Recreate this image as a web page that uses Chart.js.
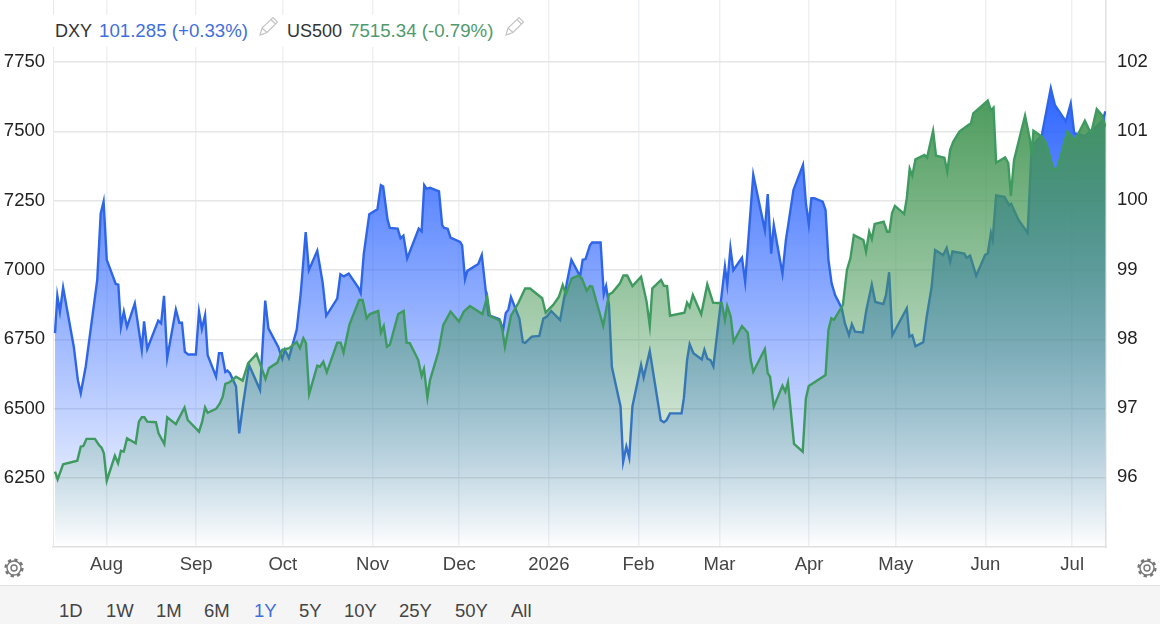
<!DOCTYPE html>
<html>
<head>
<meta charset="utf-8">
<title>DXY vs US500</title>
<script src="https://cdn.jsdelivr.net/npm/chart.js@4"></script>
<style>
    html, body { margin: 0; padding: 0; background: #fff; overflow: hidden; }
    body { width: 1160px; height: 624px; position: relative; font-family: "Liberation Sans", Arial, sans-serif; font-size: 18px; color: #333; }
    #priceChart { position: absolute; left: 0; top: 0; }
    #legendRow { position: absolute; left: 53px; top: 15px; width: 480px; height: 32px; background: #fff; }
    #legendRow span, #legendRow svg { position: absolute; white-space: nowrap; line-height: 32px; }
    #legendRow .blue, #legendRow .green { font-size: 18.7px; }
    .blue { color: #3f6fdc; }
    .green { color: #4f9a6c; }
    .gear { position: absolute; top: 558px; }
    #rangeBar { position: absolute; left: 0; top: 585px; width: 1160px; height: 39px; background: #f5f5f5; border-top: 1px solid #e2e2e2; box-sizing: border-box; font-size: 18.5px; }
    #rangeBar span { position: absolute; top: 14px; line-height: 21px; color: #444; }
    #rangeBar span.active { color: #3f6fdc; }
</style>
</head>
<body>
<canvas id="priceChart" width="1160" height="585"></canvas>

<div id="legendRow">
    <span style="left:2px">DXY</span>
    <span class="blue" style="left:46px">101.285 (+0.33%)</span>
    <svg style="left:204px;top:0" width="22" height="22" viewBox="0 0 22 22"><path d="M3 20 L5 13 L16 2.5 L20.5 7 L10 17.5 Z M5 13 L10 17.5 M14 4.5 L18.5 9 M3 20 L7 19" fill="none" stroke="#c4c4c4" stroke-width="1.2"/></svg>
    <span style="left:234px">US500</span>
    <span class="green" style="left:296px">7515.34 (-0.79%)</span>
    <svg style="left:450px;top:0" width="22" height="22" viewBox="0 0 22 22"><path d="M3 20 L5 13 L16 2.5 L20.5 7 L10 17.5 Z M5 13 L10 17.5 M14 4.5 L18.5 9 M3 20 L7 19" fill="none" stroke="#c4c4c4" stroke-width="1.2"/></svg>
</div>

<svg class="gear" style="left:4px" width="20" height="20" viewBox="0 0 20 20"><circle cx="10" cy="10" r="7" fill="none" stroke="#777" stroke-width="1.4"/><circle cx="10" cy="10" r="8.4" fill="none" stroke="#777" stroke-width="2.4" stroke-dasharray="3.3 3.3"/><circle cx="10" cy="10" r="3" fill="none" stroke="#777" stroke-width="1.4"/></svg>
<svg class="gear" style="left:1137px" width="20" height="20" viewBox="0 0 20 20"><circle cx="10" cy="10" r="7" fill="none" stroke="#777" stroke-width="1.4"/><circle cx="10" cy="10" r="8.4" fill="none" stroke="#777" stroke-width="2.4" stroke-dasharray="3.3 3.3"/><circle cx="10" cy="10" r="3" fill="none" stroke="#777" stroke-width="1.4"/></svg>

<div id="rangeBar"></div>

<script>
// days are counted from 14 Jul 2025
const dxyDays = [0.2, 1.0, 1.9, 3.0, 6.7, 8.1, 9.1, 10.8, 14.8, 16.0, 17.0, 18.1, 21.2, 22.1, 23.0, 24.0, 25.1, 27.8, 30.2, 31.0,
    32.1, 35.9, 36.9, 37.9, 39.0, 42.0, 43.2, 44.1, 45.1, 46.3, 48.9, 50.0, 51.0, 52.1, 53.0, 55.9, 56.9, 57.9, 59.1, 59.8,
    60.7, 62.8, 63.9, 65.3, 67.3, 71.1, 72.9, 74.0, 77.4, 78.8, 79.7, 81.1, 83.8, 85.2, 86.9, 88.0, 90.9, 92.8, 94.0, 97.8,
    98.9, 100.1, 101.8, 105.1, 105.9, 107.0, 108.9, 111.7, 112.9, 113.7, 115.2, 116.0, 118.7, 119.7, 120.7, 122.0, 126.0, 127.0, 127.9, 128.7,
    129.9, 133.0, 134.1, 134.8, 136.0, 137.0, 140.3, 141.0, 142.0, 142.8, 146.6, 147.8, 150.1, 153.9, 155.2, 156.1, 157.0, 157.9, 160.8, 162.0,
    162.8, 165.1, 167.7, 169.1, 170.3, 171.8, 174.9, 177.2, 178.8, 181.8, 182.7, 183.7, 185.2, 186.0, 188.9, 190.0, 190.8, 191.8, 192.8, 195.8,
    196.7, 197.8, 198.8, 199.9, 202.9, 203.8, 205.9, 209.7, 210.8, 211.7, 212.9, 216.9, 217.7, 218.8, 219.7, 221.0, 223.9, 224.8, 225.8, 226.9,
    227.9, 231.9, 232.7, 233.8, 234.8, 237.8, 238.9, 241.7, 245.7, 246.7, 247.9, 248.8, 251.8, 253.0, 253.7, 255.6, 258.9, 259.9, 260.9, 261.8,
    262.8, 265.7, 266.7, 267.7, 268.8, 270.0, 272.3, 273.4, 274.8, 275.8, 276.9, 279.6, 280.8, 282.7, 283.9, 286.7, 287.6, 288.7, 289.8, 294.8,
    295.7, 296.7, 297.8, 300.5, 301.7, 303.4, 304.6, 307.4, 308.6, 309.8, 310.6, 314.7, 315.5, 316.7, 318.8, 321.9, 322.8, 323.9, 324.5, 325.7,
    328.6, 330.2, 330.9, 333.4, 336.6, 338.0, 341.5, 344.6, 346.0, 349.8, 351.5, 352.7, 356.4, 359.9, 362.6, 363.5];
const dxyValues = [98.08, 98.62, 98.39, 98.74, 97.88, 97.40, 97.21, 97.59, 98.85, 99.81, 99.98, 99.14, 98.79, 98.78, 98.17, 98.39, 98.17, 98.51, 97.84, 98.25,
    97.85, 98.26, 98.22, 98.62, 97.72, 98.42, 98.23, 98.23, 97.81, 97.77, 97.77, 98.39, 98.14, 98.34, 97.76, 97.45, 97.79, 97.79, 97.52, 97.54,
    97.50, 97.31, 96.63, 97.07, 97.62, 97.26, 98.55, 98.15, 97.88, 97.71, 97.84, 97.72, 98.13, 98.66, 99.54, 98.99, 99.27, 98.80, 98.33, 98.58,
    98.93, 98.90, 98.94, 98.74, 98.66, 99.23, 99.80, 99.87, 100.22, 100.20, 99.72, 99.60, 99.59, 99.45, 99.49, 99.16, 99.59, 99.55, 100.22, 100.17,
    100.18, 100.13, 99.64, 99.60, 99.59, 99.46, 99.40, 99.35, 98.86, 98.98, 99.08, 99.21, 98.34, 98.28, 98.13, 98.37, 98.42, 98.60, 98.29, 97.95,
    97.94, 98.03, 98.04, 98.29, 98.32, 98.40, 98.27, 98.80, 99.14, 98.90, 99.14, 99.15, 99.35, 99.39, 99.39, 98.64, 98.76, 98.49, 97.59, 97.02,
    96.22, 96.44, 96.28, 97.02, 97.62, 97.44, 97.82, 96.82, 96.79, 96.82, 96.92, 96.92, 97.14, 97.69, 97.92, 97.79, 97.70, 97.84, 97.71, 97.69,
    97.60, 99.04, 98.78, 99.31, 98.99, 99.17, 98.82, 100.37, 99.57, 100.09, 99.23, 99.64, 98.94, 99.43, 99.62, 100.15, 100.51, 99.96, 99.65, 100.03,
    100.03, 99.98, 99.86, 99.14, 98.80, 98.63, 98.44, 98.22, 98.05, 98.21, 98.10, 98.09, 98.41, 98.78, 98.53, 98.50, 98.63, 98.96, 98.05, 98.44,
    98.03, 98.05, 97.89, 97.95, 98.32, 98.75, 99.28, 99.21, 99.31, 99.11, 99.26, 99.23, 99.17, 99.20, 98.91, 99.21, 99.23, 99.53, 99.43, 100.07,
    100.05, 99.93, 99.95, 99.72, 99.53, 100.78, 100.94, 101.62, 101.38, 101.14, 101.40, 100.97, 100.93, 101.05, 101.16, 101.285];

const us500Days = [0.2, 1.1, 3.0, 7.9, 9.1, 10.0, 11.1, 14.0, 15.4, 16.3, 17.1, 18.1, 20.9, 22.0, 23.0, 24.0, 25.1, 28.1, 29.2, 30.2,
    31.1, 32.1, 35.1, 36.0, 38.0, 39.0, 42.0, 45.0, 46.1, 50.0, 51.1, 52.1, 53.0, 55.9, 57.2, 58.2, 59.1, 60.7, 62.8, 65.1,
    67.0, 69.9, 73.0, 74.2, 77.1, 78.8, 81.2, 83.8, 84.9, 86.1, 87.0, 88.1, 90.9, 91.8, 93.0, 94.2, 97.8, 99.0, 100.0, 102.0,
    105.4, 106.6, 108.0, 109.1, 112.0, 112.9, 113.9, 115.0, 116.0, 118.9, 120.8, 121.8, 122.9, 125.8, 127.0, 127.8, 129.0, 129.9, 132.8, 134.5,
    137.0, 139.9, 141.6, 143.7, 148.0, 149.7, 150.6, 154.1, 154.9, 155.8, 157.9, 160.4, 162.8, 164.5, 168.7, 169.9, 172.5, 174.5, 175.8, 176.9,
    178.9, 181.2, 182.4, 184.1, 185.2, 186.0, 189.8, 191.8, 192.9, 195.6, 196.8, 198.1, 199.9, 202.9, 204.8, 205.9, 206.8, 209.8, 210.8, 211.9,
    212.9, 217.9, 218.8, 219.7, 220.8, 223.7, 225.8, 227.8, 230.8, 231.9, 232.7, 233.9, 234.9, 237.8, 239.8, 240.8, 241.7, 245.7, 246.7, 247.5,
    248.8, 251.8, 252.8, 253.7, 255.8, 258.8, 259.9, 260.9, 266.7, 267.7, 268.7, 269.6, 272.7, 274.1, 275.3, 276.5, 279.8, 280.7, 281.8, 282.7,
    283.7, 286.8, 288.0, 288.8, 289.7, 290.7, 293.9, 294.8, 295.8, 296.7, 297.8, 300.9, 301.8, 303.9, 304.9, 307.8, 308.8, 309.8, 310.9, 313.0,
    316.1, 317.0, 317.8, 322.8, 323.9, 324.8, 325.7, 328.8, 329.9, 330.8, 331.9, 335.7, 337.4, 338.0, 338.6, 341.5, 343.0, 345.5, 346.9, 350.3,
    353.0, 356.4, 357.9, 358.7, 360.5, 362.2, 363.6];
const us500Values = [6273, 6245, 6299, 6312, 6363, 6365, 6391, 6391, 6369, 6359, 6339, 6240, 6330, 6303, 6348, 6345, 6393, 6375, 6453, 6469,
    6469, 6453, 6451, 6411, 6372, 6469, 6444, 6504, 6459, 6417, 6453, 6504, 6485, 6499, 6519, 6543, 6589, 6596, 6615, 6601,
    6664, 6697, 6607, 6646, 6666, 6712, 6718, 6741, 6718, 6754, 6736, 6553, 6655, 6651, 6669, 6631, 6738, 6738, 6702, 6802,
    6892, 6892, 6826, 6841, 6852, 6774, 6798, 6723, 6730, 6841, 6852, 6738, 6736, 6676, 6618, 6643, 6540, 6603, 6705, 6802,
    6850, 6814, 6850, 6870, 6841, 6904, 6835, 6817, 6784, 6723, 6835, 6880, 6933, 6933, 6898, 6846, 6874, 6904, 6946, 6913,
    6970, 6980, 6970, 6925, 6942, 6940, 6799, 6912, 6918, 6952, 6980, 6980, 6942, 6976, 6886, 6799, 6934, 6964, 6943, 6942,
    6835, 6846, 6882, 6866, 6910, 6840, 6948, 6882, 6880, 6820, 6870, 6832, 6741, 6798, 6774, 6676, 6633, 6715, 6628, 6615,
    6507, 6583, 6561, 6595, 6373, 6345, 6537, 6582, 6621, 6784, 6826, 6820, 6874, 7000, 7042, 7126, 7108, 7066, 7138, 7111,
    7166, 7174, 7138, 7138, 7205, 7231, 7202, 7259, 7365, 7340, 7399, 7415, 7405, 7502, 7412, 7405, 7355, 7433, 7463, 7499,
    7523, 7529, 7565, 7611, 7575, 7585, 7387, 7406, 7385, 7267, 7397, 7556, 7469, 7415, 7502, 7481, 7457, 7363, 7367, 7499,
    7469, 7538, 7505, 7499, 7580, 7559, 7515.34];

const monthDays = [18, 49, 79, 110, 140, 171, 202, 230, 261, 291, 322, 352];
const monthLabels = ["Aug", "Sep", "Oct", "Nov", "Dec", "2026", "Feb", "Mar", "Apr", "May", "Jun", "Jul"];
const us500Ticks = [6250, 6500, 6750, 7000, 7250, 7500, 7750];
const dxyTicks = [96, 97, 98, 99, 100, 101, 102];
const rangeLabels = ["1D", "1W", "1M", "6M", "1Y", "5Y", "10Y", "25Y", "50Y", "All"];
const rangeLefts = [59, 106, 156, 204, 254, 299, 344, 399, 455, 511];

function fillGradient(chart, stops) {
    const area = chart.chartArea;
    if (!area) return "transparent";
    const g = chart.ctx.createLinearGradient(0, area.top, 0, area.bottom);
    stops.forEach(s => g.addColorStop(s[0], s[1]));
    return g;
}

function toPoints(days, values) {
    return days.map((d, i) => ({ x: d, y: values[i] }));
}

// y axes reserve room for half a label above the top tick, which would push the plot down
function fitYAxis(axis, width) {
    axis.width = width;
    axis.paddingTop = 0;
    axis.paddingBottom = 0;
}

rangeLabels.forEach((label, i) => {
    const el = document.createElement("span");
    el.textContent = label;
    el.style.left = rangeLefts[i] + "px";
    if (label === "1Y") el.className = "active";
    document.getElementById("rangeBar").appendChild(el);
});

const tickFont = { family: "'Liberation Sans', Arial, sans-serif", size: 18.5 };

new Chart(document.getElementById("priceChart"), {
    type: "line",
    data: {
        datasets: [
            {
                label: "DXY",
                data: toPoints(dxyDays, dxyValues),
                yAxisID: "yDxy",
                order: 2,
                borderColor: "#2f66e8",
                borderWidth: 2.4,
                pointRadius: 0,
                tension: 0,
                fill: "start",
                backgroundColor: ctx => fillGradient(ctx.chart, [
                    [0, "rgba(41,98,255,1)"],
                    [0.14, "rgba(41,98,255,1)"],
                    [1, "rgba(41,98,255,0)"]
                ])
            },
            {
                label: "US500",
                data: toPoints(us500Days, us500Values),
                yAxisID: "yUs500",
                order: 1,
                borderColor: "#3f9a60",
                borderWidth: 2.4,
                pointRadius: 0,
                tension: 0,
                fill: "start",
                backgroundColor: ctx => fillGradient(ctx.chart, [
                    [0, "rgba(68,150,84,0.95)"],
                    [0.18, "rgba(68,150,84,0.95)"],
                    [1, "rgba(68,150,84,0)"]
                ])
            }
        ]
    },
    options: {
        responsive: false,
        animation: false,
        layout: { padding: 0, autoPadding: false },
        plugins: { legend: { display: false }, tooltip: { enabled: false } },
        scales: {
            x: {
                type: "linear",
                min: -0.5,
                max: 363.7,
                afterBuildTicks: axis => { axis.ticks = monthDays.map(v => ({ value: v })); },
                afterFit: axis => { axis.height = 38; axis.paddingLeft = 0; axis.paddingRight = 0; },
                ticks: {
                    autoSkip: false,
                    maxRotation: 0,
                    padding: 7,
                    color: "#444",
                    font: tickFont,
                    callback: value => monthLabels[monthDays.indexOf(value)]
                },
                grid: { color: "#eef1f4", lineWidth: 1.5, drawTicks: false },
                border: { color: "#e0e0e0", width: 1.5 }
            },
            yUs500: {
                type: "linear",
                position: "left",
                min: 6001,
                max: 7973.6,
                afterBuildTicks: axis => { axis.ticks = us500Ticks.map(v => ({ value: v })); },
                afterFit: axis => fitYAxis(axis, 53),
                ticks: { padding: 8, color: "#222", font: tickFont, callback: value => String(value) },
                grid: { color: "#e6e6e6", lineWidth: 1.5, drawTicks: false },
                border: { color: "#e8e8e8" }
            },
            yDxy: {
                type: "linear",
                position: "right",
                min: 94.988,
                max: 102.896,
                afterBuildTicks: axis => { axis.ticks = dxyTicks.map(v => ({ value: v })); },
                afterFit: axis => fitYAxis(axis, 54),
                ticks: { padding: 11, color: "#222", font: tickFont, callback: value => String(value) },
                grid: { drawOnChartArea: false, drawTicks: false },
                border: { color: "#e0e0e0", width: 1.5 }
            }
        }
    }
});
</script>
</body>
</html>
